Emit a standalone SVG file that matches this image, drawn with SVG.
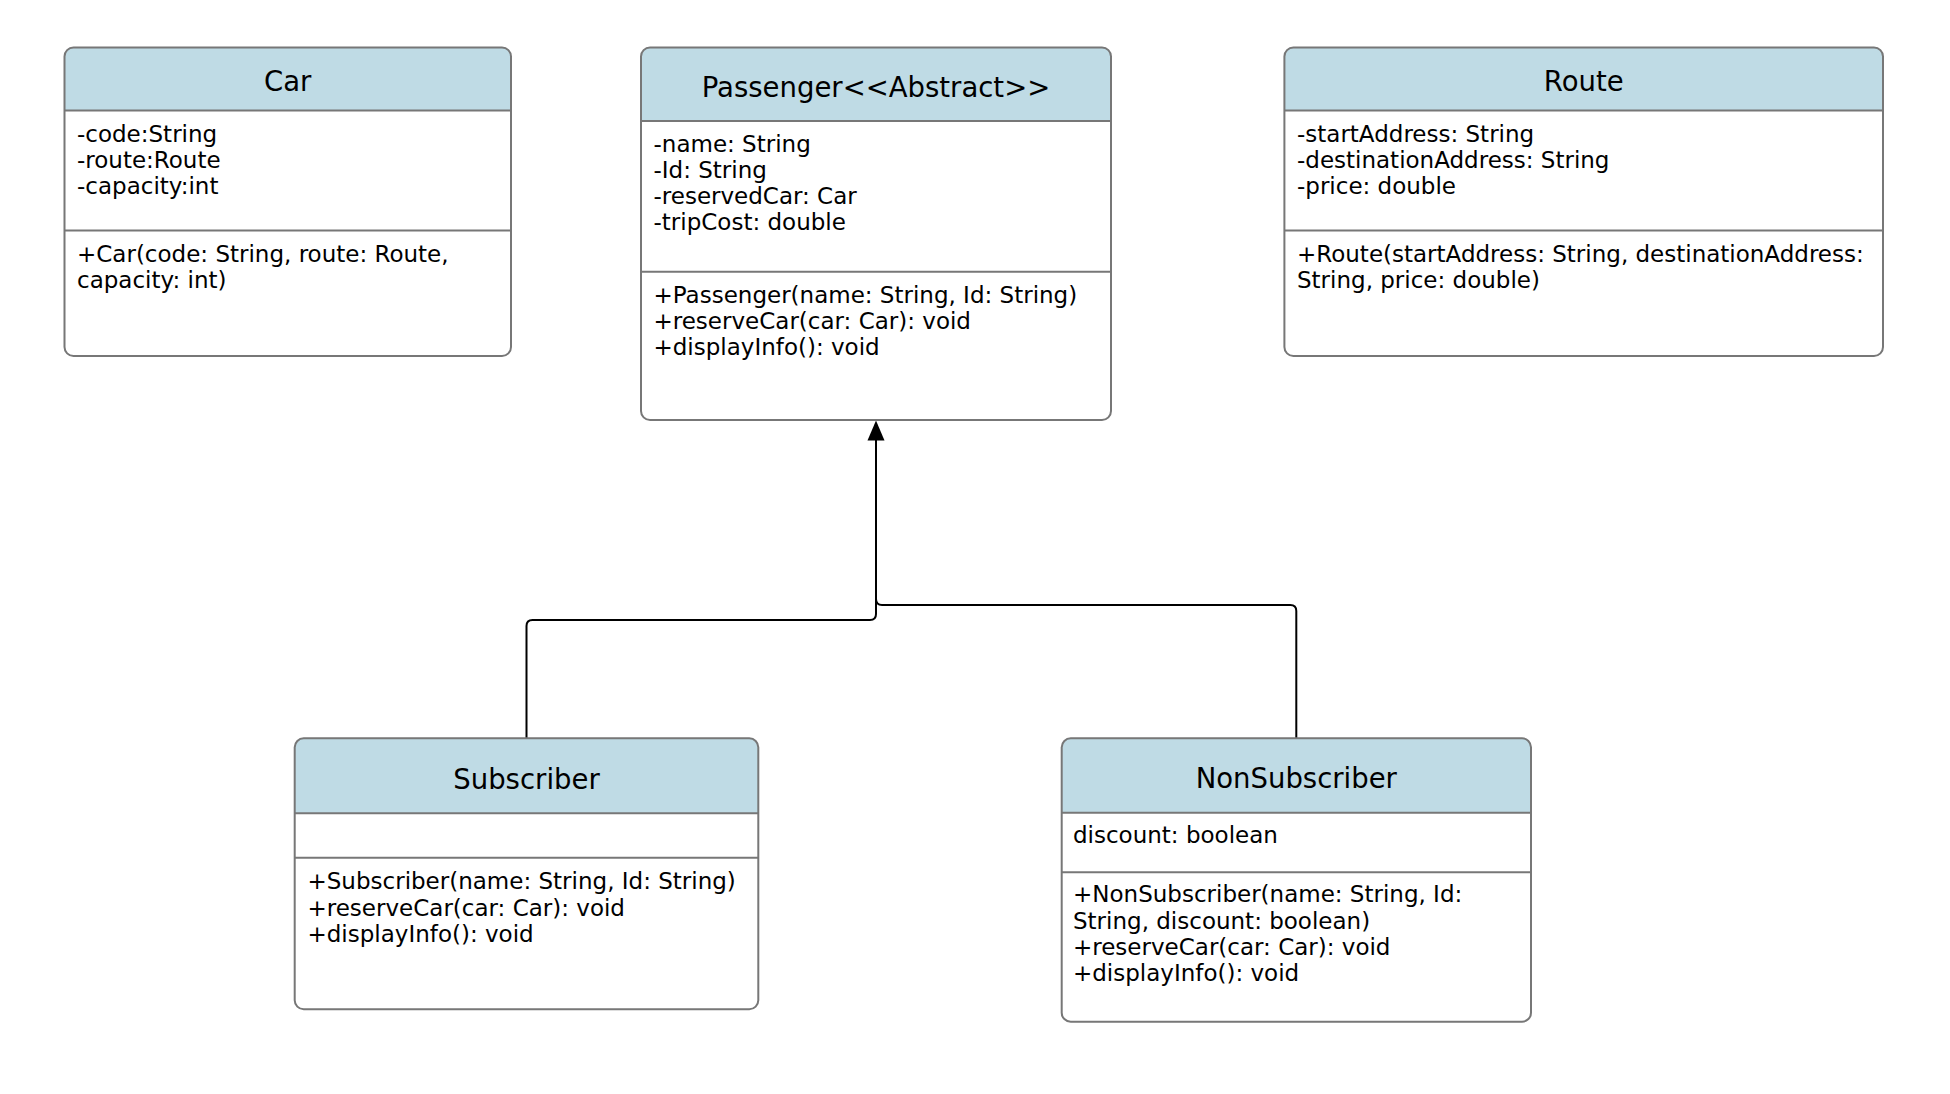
<svg xmlns="http://www.w3.org/2000/svg" width="1950" height="1094" viewBox="0 0 1950 1094">
<defs>
<style>
.box{fill:none;stroke:#777777;stroke-width:2}
.hdr{fill:#bfdbe5}
.sep{stroke:#777777;stroke-width:2;fill:none}
.title{font-family:"DejaVu Sans",Verdana,sans-serif;font-size:27.5px;fill:#000;text-anchor:middle}
.txt{font-family:"DejaVu Sans",Verdana,sans-serif;font-size:23px;fill:#000}
.conn{fill:none;stroke:#000;stroke-width:2}
</style>
</defs>
<rect width="1950" height="1094" fill="#ffffff"/>

<g id="connectors">
<path class="conn" d="M526.5,738 L526.5,626 Q526.5,620 532.5,620 L870,620 Q876,620 876,614 L876,440"/>
<path class="conn" d="M1296.3,738 L1296.3,611 Q1296.3,605 1290.3,605 L882,605 Q876,605 876,599 L876,440"/>
<path d="M876,420.5 L884.5,440.5 L867.5,440.5 Z" fill="#000"/>
</g>

<g id="car">
<path class="hdr" d="M64.5,110.5 V56.5 Q64.5,47.5 73.5,47.5 H502 Q511,47.5 511,56.5 V110.5 Z"/>
<rect class="box" x="64.5" y="47.5" width="446.5" height="308.5" rx="9"/>
<line class="sep" x1="64.5" y1="110.5" x2="511" y2="110.5"/>
<line class="sep" x1="64.5" y1="230.5" x2="511" y2="230.5"/>
<text class="title" x="287.7" y="90.7">Car</text>
<text class="txt" x="77" y="141.7">-code:String</text>
<text class="txt" x="77" y="167.7">-route:Route</text>
<text class="txt" x="77" y="193.7">-capacity:int</text>
<text class="txt" x="77" y="261.7">+Car(code: String, route: Route,</text>
<text class="txt" x="77" y="287.7">capacity: int)</text>
</g>

<g id="passenger">
<path class="hdr" d="M641,121 V56.5 Q641,47.5 650,47.5 H1102 Q1111,47.5 1111,56.5 V121 Z"/>
<rect class="box" x="641" y="47.5" width="470" height="372.5" rx="9"/>
<line class="sep" x1="641" y1="121" x2="1111" y2="121"/>
<line class="sep" x1="641" y1="271.7" x2="1111" y2="271.7"/>
<text class="title" x="876" y="96.7">Passenger&lt;&lt;Abstract&gt;&gt;</text>
<text class="txt" x="653.5" y="152.3">-name: String</text>
<text class="txt" x="653.5" y="178.3">-Id: String</text>
<text class="txt" x="653.5" y="204.3">-reservedCar: Car</text>
<text class="txt" x="653.5" y="230.3">-tripCost: double</text>
<text class="txt" x="653.5" y="303.3">+Passenger(name: String, Id: String)</text>
<text class="txt" x="653.5" y="329.3">+reserveCar(car: Car): void</text>
<text class="txt" x="653.5" y="355.3">+displayInfo(): void</text>
</g>

<g id="route">
<path class="hdr" d="M1284.4,110.5 V56.5 Q1284.4,47.5 1293.4,47.5 H1874 Q1883,47.5 1883,56.5 V110.5 Z"/>
<rect class="box" x="1284.4" y="47.5" width="598.6" height="308.5" rx="9"/>
<line class="sep" x1="1284.4" y1="110.5" x2="1883" y2="110.5"/>
<line class="sep" x1="1284.4" y1="230.5" x2="1883" y2="230.5"/>
<text class="title" x="1583.7" y="90.7">Route</text>
<text class="txt" x="1297" y="141.7">-startAddress: String</text>
<text class="txt" x="1297" y="167.7">-destinationAddress: String</text>
<text class="txt" x="1297" y="193.7">-price: double</text>
<text class="txt" x="1297" y="261.7">+Route(startAddress: String, destinationAddress:</text>
<text class="txt" x="1297" y="287.7">String, price: double)</text>
</g>

<g id="subscriber">
<path class="hdr" d="M294.7,813.3 V747.3 Q294.7,738.3 303.7,738.3 H749.3 Q758.3,738.3 758.3,747.3 V813.3 Z"/>
<rect class="box" x="294.7" y="738.3" width="463.6" height="271" rx="9"/>
<line class="sep" x1="294.7" y1="813.3" x2="758.3" y2="813.3"/>
<line class="sep" x1="294.7" y1="857.7" x2="758.3" y2="857.7"/>
<text class="title" x="526.5" y="789.3">Subscriber</text>
<text class="txt" x="307.5" y="889">+Subscriber(name: String, Id: String)</text>
<text class="txt" x="307.5" y="915.5">+reserveCar(car: Car): void</text>
<text class="txt" x="307.5" y="942">+displayInfo(): void</text>
</g>

<g id="nonsubscriber">
<path class="hdr" d="M1061.7,812.7 V747.3 Q1061.7,738.3 1070.7,738.3 H1522 Q1531,738.3 1531,747.3 V812.7 Z"/>
<rect class="box" x="1061.7" y="738.3" width="469.3" height="283.4" rx="9"/>
<line class="sep" x1="1061.7" y1="812.7" x2="1531" y2="812.7"/>
<line class="sep" x1="1061.7" y1="872.3" x2="1531" y2="872.3"/>
<text class="title" x="1296.3" y="788.3">NonSubscriber</text>
<text class="txt" x="1073" y="843.3">discount: boolean</text>
<text class="txt" x="1073" y="902.3">+NonSubscriber(name: String, Id:</text>
<text class="txt" x="1073" y="928.5">String, discount: boolean)</text>
<text class="txt" x="1073" y="954.7">+reserveCar(car: Car): void</text>
<text class="txt" x="1073" y="981">+displayInfo(): void</text>
</g>
</svg>
